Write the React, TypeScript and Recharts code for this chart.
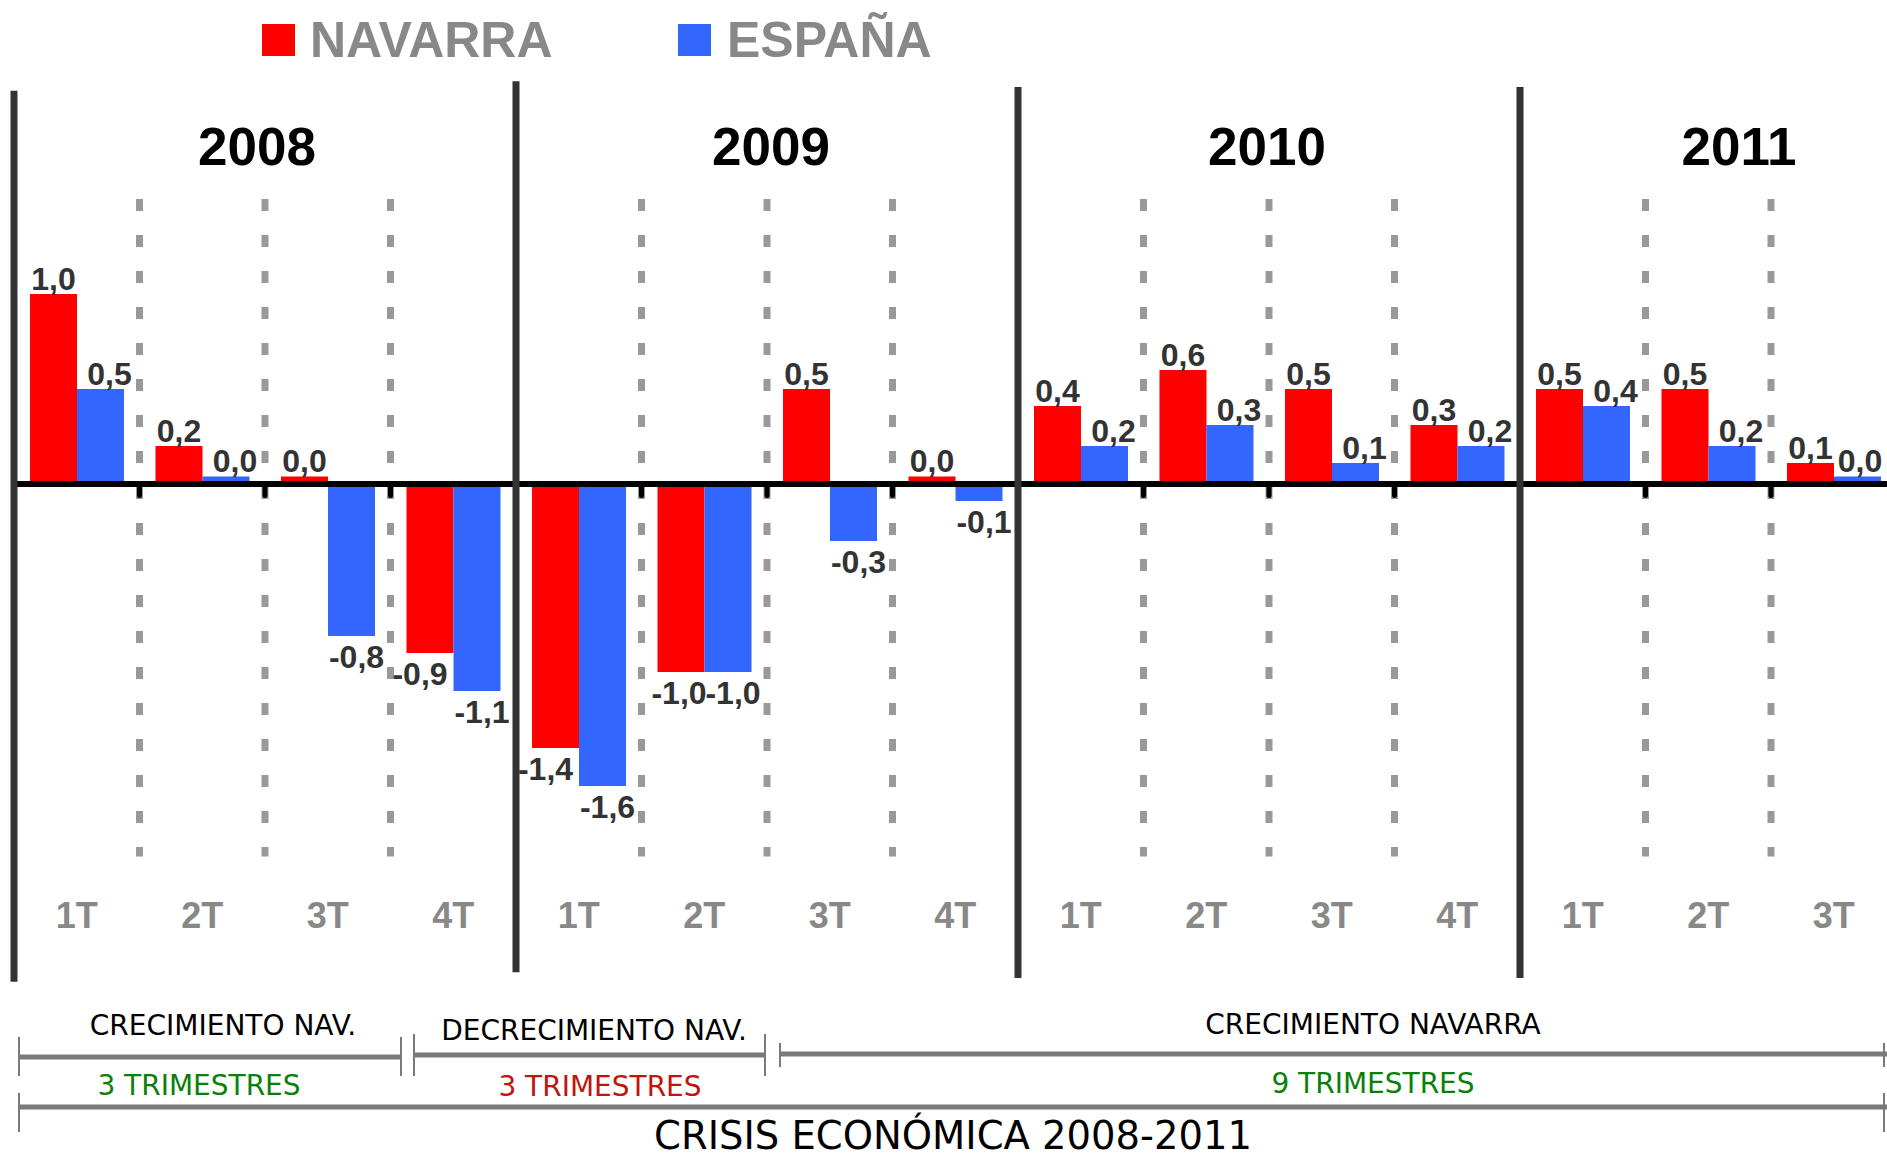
import { BarChart, Bar, XAxis, YAxis, ReferenceLine, LabelList } from 'recharts'

const YEARS = ['2008', '2009', '2010', '2011']
const QUARTERS = ['1T', '2T', '3T', '4T']
// 2011 4T lies outside the visible crop, so it carries no values
const NAVARRA = [1.0, 0.2, 0.04, -0.89, -1.39, -0.99, 0.5, 0.04, 0.41, 0.6, 0.5, 0.31, 0.5, 0.5, 0.11, null]
const ESPANA = [0.5, 0.04, -0.8, -1.09, -1.59, -0.99, -0.3, -0.09, 0.2, 0.31, 0.11, 0.2, 0.41, 0.2, 0.04, null]

const DATA = YEARS.flatMap((year, i) =>
  QUARTERS.map((q, j) => ({
    key: `${year}-${q}`,
    year,
    navarra: NAVARRA[i * 4 + j],
    espana: ESPANA[i * 4 + j],
  }))
)

const RED = '#ff0000'
const BLUE = '#3366ff'
const FONT = '"Liberation Sans", Arial, sans-serif'
const NOTE_FONT = '"DejaVu Sans", Verdana, sans-serif'
// small nudges of the year titles and separator ends, as drawn in the original
const YEAR_NUDGE = [-8, 4, -2, -32]
const YEAR_LINE_TOP = [2.07, 2.12, 2.09, 2.09]
const YEAR_LINE_BOTTOM = [-2.62, -2.57, -2.6, -2.6]

const fmt = (v: number) => v.toFixed(1).replace('.', ',')

// dx(value, index) decides the sideways shift of each value label
const makeLabel = (dx: (v: number, i: number) => number) => (props: any) => {
  const { x, y, width, height, value, index } = props
  if (value == null) return null
  const top = Math.min(+y, +y + +height)
  const bottom = Math.max(+y, +y + +height)
  const neg = value < 0
  const cx = Math.min(+x + +width / 2 + dx(value, index), 1860)
  return (
    <text
      x={cx}
      y={neg ? bottom + 32 : top - 4}
      textAnchor="middle"
      fontSize={32}
      fontWeight="bold"
      fill="#333"
      fontFamily={FONT}
    >
      {fmt(value)}
    </text>
  )
}

// red negative labels step aside when the blue bar next to them reaches lower
const navarraDx = (v: number, i: number) => {
  if (v >= 0) return 0
  const other = ESPANA[i]
  return other != null && other < v - 0.05 ? -10 : -2
}
const espanaDx = (v: number) => (v >= 0 ? 9 : 5)

const QuarterTick = (props: any) => {
  const { x, y, payload, index } = props
  const row = DATA[index]
  if (row && row.navarra == null && row.espana == null) return null
  return (
    <text x={x} y={y - 50} textAnchor="middle" fontSize={36} fontWeight="bold" fill="#888" fontFamily={FONT}>
      {String(payload.value).split('-')[1]}
    </text>
  )
}

const YearLabel = (props: any) => {
  const { viewBox, text, dx } = props
  if (!viewBox) return null
  return (
    <text x={viewBox.x + dx} y={viewBox.y + 80} textAnchor="middle" fontSize={53} fontWeight="bold" fill="#000" fontFamily={FONT}>
      {text}
    </text>
  )
}

function Notes() {
  const grey = '#7a7a7a'
  return (
    <svg width={1887} height={1159} style={{ position: 'absolute', left: 0, top: 0, pointerEvents: 'none' }}>
      <rect x={262} y={24} width={33} height={32} fill={RED} />
      <text x={310} y={57} fontSize={50} fontWeight="bold" fill="#888" fontFamily={FONT}>NAVARRA</text>
      <rect x={678} y={24} width={33} height={32} fill={BLUE} />
      <text x={727} y={57} fontSize={50} fontWeight="bold" fill="#888" fontFamily={FONT}>ESPAÑA</text>

      <g fontFamily={NOTE_FONT} fontSize={28} textAnchor="middle">
        <text x={223} y={1035} fill="#000">CRECIMIENTO NAV.</text>
        <text x={594} y={1040} fill="#000">DECRECIMIENTO NAV.</text>
        <text x={1373} y={1034} fill="#000">CRECIMIENTO NAVARRA</text>
        <text x={199} y={1095} fill="#0a800a">3 TRIMESTRES</text>
        <text x={600} y={1096} fill="#c0140c">3 TRIMESTRES</text>
        <text x={1373} y={1093} fill="#0a800a">9 TRIMESTRES</text>
        <text x={953} y={1149} fill="#000" fontSize={38.5}>CRISIS ECONÓMICA 2008-2011</text>
      </g>

      <g stroke={grey}>
        <line x1={19} x2={401} y1={1057} y2={1057} strokeWidth={5} />
        <line x1={19} x2={19} y1={1037} y2={1076} strokeWidth={2} />
        <line x1={401} x2={401} y1={1037} y2={1076} strokeWidth={2} />
        <line x1={414} x2={765} y1={1055} y2={1055} strokeWidth={5} />
        <line x1={414} x2={414} y1={1034} y2={1076} strokeWidth={2} />
        <line x1={765} x2={765} y1={1034} y2={1076} strokeWidth={2} />
        <line x1={780} x2={1887} y1={1054} y2={1054} strokeWidth={5} />
        <line x1={780} x2={780} y1={1043} y2={1067} strokeWidth={2} />
        <line x1={1884} x2={1884} y1={1043} y2={1067} strokeWidth={2} />
        <line x1={19} x2={1887} y1={1107} y2={1107} strokeWidth={5} />
        <line x1={19} x2={19} y1={1093} y2={1132} strokeWidth={2} />
        <line x1={1884} x2={1884} y1={1093} y2={1132} strokeWidth={2} />
      </g>
    </svg>
  )
}

export default function App() {
  return (
    <div
      style={{
        position: 'absolute',
        left: 0,
        top: 0,
        width: 1887,
        height: 1159,
        overflow: 'hidden',
        background: '#fff',
        fontFamily: FONT,
      }}
    >
      <BarChart
        width={2022}
        height={1159}
        data={DATA}
        margin={{ top: 85, right: 0, bottom: 151, left: 14 }}
        barGap={0}
        barSize={47}
      >
        <XAxis
          dataKey="key"
          interval={0}
          height={30}
          tickSize={0}
          tickMargin={0}
          axisLine={false}
          tickLine={false}
          tick={QuarterTick}
        />
        <YAxis hide type="number" domain={[-2.6, 2.1]} />

        {DATA.filter((d) => !d.key.endsWith('1T')).map((d) => (
          <ReferenceLine
            key={`dash-${d.key}`}
            segment={[{ x: d.key, y: 1.5 }, { x: d.key, y: -1.96 }]}
            position="start"
            stroke="#999"
            strokeWidth={7}
            strokeDasharray="12 24"
          />
        ))}

        {YEARS.map((y, i) => (
          <ReferenceLine
            key={`ylabel-${y}`}
            x={`${y}-3T`}
            position="start"
            stroke="none"
            label={(p: any) => <YearLabel {...p} text={y} dx={YEAR_NUDGE[i]} />}
          />
        ))}

        <Bar dataKey="navarra" name="NAVARRA" fill={RED} isAnimationActive={false}>
          <LabelList dataKey="navarra" content={makeLabel(navarraDx)} />
        </Bar>
        <Bar dataKey="espana" name="ESPAÑA" fill={BLUE} isAnimationActive={false}>
          <LabelList dataKey="espana" content={makeLabel(espanaDx)} />
        </Bar>

        <ReferenceLine y={0} stroke="#000" strokeWidth={6} />
        {DATA.map((d) => (
          <ReferenceLine
            key={`tick-${d.key}`}
            segment={[{ x: d.key, y: 0 }, { x: d.key, y: -0.06 }]}
            position="start"
            stroke="#000"
            strokeWidth={5}
            strokeLinecap="round"
          />
        ))}
        {YEARS.map((y, i) => (
          <ReferenceLine
            key={`year-${y}`}
            segment={[{ x: `${y}-1T`, y: YEAR_LINE_TOP[i] }, { x: `${y}-1T`, y: YEAR_LINE_BOTTOM[i] }]}
            position="start"
            ifOverflow="visible"
            stroke="#333"
            strokeWidth={7}
          />
        ))}
      </BarChart>
      <Notes />
    </div>
  )
}
